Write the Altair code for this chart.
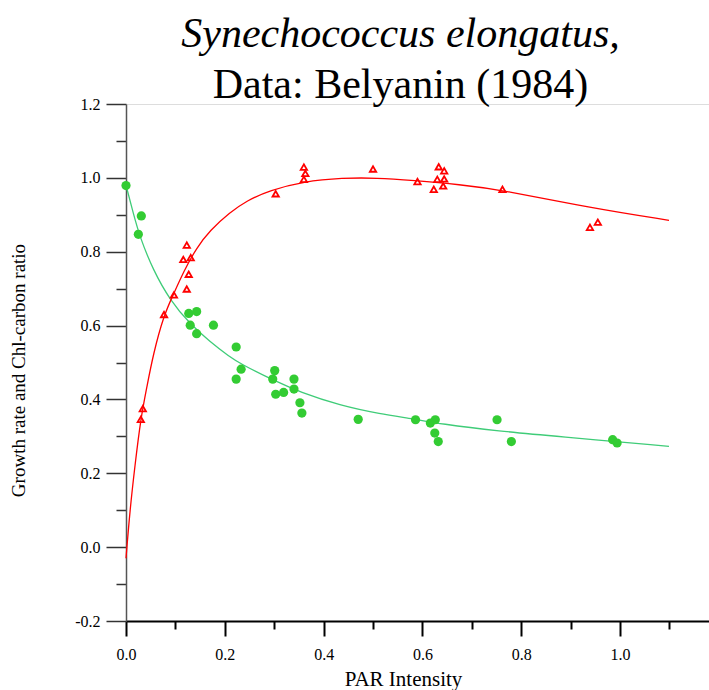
import altair as alt
import pandas as pd

# ---- data ----
green_x = [0.000, 0.025, 0.031, 0.127, 0.130, 0.143, 0.143, 0.177, 0.223, 0.223,
           0.233, 0.297, 0.301, 0.303, 0.319, 0.340, 0.340, 0.352, 0.356, 0.470,
           0.586, 0.616, 0.625, 0.626, 0.632, 0.751, 0.780, 0.985, 0.994]
green_y = [0.979, 0.847, 0.897, 0.633, 0.601, 0.638, 0.578, 0.601, 0.542, 0.455,
           0.482, 0.455, 0.478, 0.414, 0.419, 0.455, 0.428, 0.391, 0.363, 0.346,
           0.345, 0.336, 0.309, 0.345, 0.286, 0.345, 0.286, 0.291, 0.282]

red_x = [0.030, 0.034, 0.077, 0.097, 0.116, 0.123, 0.123, 0.127, 0.131, 0.303,
         0.360, 0.360, 0.363, 0.500, 0.590, 0.623, 0.630, 0.633, 0.642, 0.644,
         0.644, 0.762, 0.939, 0.955]
red_y = [0.346, 0.375, 0.630, 0.683, 0.779, 0.818, 0.699, 0.739, 0.784, 0.957,
         1.029, 0.996, 1.012, 1.024, 0.990, 0.969, 0.996, 1.030, 0.978, 1.019,
         0.997, 0.969, 0.866, 0.880]

# fitted curves
red_curve_x = [0.000, 0.008, 0.018, 0.030, 0.042, 0.055, 0.077, 0.096, 0.116, 0.143,
               0.170, 0.210, 0.244, 0.291, 0.359, 0.439, 0.507, 0.581, 0.675, 0.763,
               0.938, 1.099]
red_curve_y = [-0.030, 0.100, 0.220, 0.350, 0.432, 0.522, 0.630, 0.684, 0.745, 0.811,
               0.858, 0.906, 0.938, 0.966, 0.990, 1.000, 1.000, 0.993, 0.982, 0.967,
               0.919, 0.885]

green_curve_x = [0.000, 0.015, 0.028, 0.055, 0.089, 0.129, 0.170, 0.210, 0.231, 0.298,
                 0.352, 0.433, 0.514, 0.584, 0.635, 0.756, 0.871, 1.099]
green_curve_y = [0.980, 0.903, 0.840, 0.750, 0.669, 0.605, 0.556, 0.515, 0.497, 0.452,
                 0.420, 0.384, 0.361, 0.347, 0.334, 0.314, 0.300, 0.273]

x_ticks = [0.0, 0.1, 0.2, 0.3, 0.4, 0.5, 0.6, 0.7, 0.8, 0.9, 1.0, 1.1]
y_ticks = [-0.2, -0.1, 0.0, 0.1, 0.2, 0.3, 0.4, 0.5, 0.6, 0.7, 0.8, 0.9, 1.0, 1.1, 1.2]

title_line1 = "Synechococcus elongatus,"
title_line2 = "Data: Belyanin (1984)"
x_title = "PAR Intensity"
y_title = "Growth rate and Chl-carbon ratio"

# ---- tables ----
green_df = pd.DataFrame({"x": green_x, "y": green_y})
red_df = pd.DataFrame({"x": red_x, "y": red_y})
red_curve_df = pd.DataFrame({"x": red_curve_x, "y": red_curve_y})
green_curve_df = pd.DataFrame({"x": green_curve_x, "y": green_curve_y})

SERIF = "Liberation Serif"
major_test = "round(datum.value*10) % 2 == 0"
label_expr = "round(datum.value*10) % 2 == 0 ? replace(format(datum.value, '.1f'), '\u2212', '-') : ''"

xscale = alt.Scale(domain=[0, 1.18], nice=False, zero=False)
yscale = alt.Scale(domain=[-0.2, 1.2], nice=False, zero=False)

xaxis = alt.Axis(
    values=x_ticks, labelExpr=label_expr, grid=False,
    tickSize={"condition": {"test": major_test, "value": 15}, "value": 8},
    tickColor="black", tickWidth=2, domainColor="black", domainWidth=2,
    labelFont=SERIF, labelFontSize=16, labelColor="black", labelPadding=10,
    labelOverlap=False, labelFlush=False,
    title=x_title, titleFont=SERIF, titleFontSize=21, titleFontWeight="normal",
    titleColor="black", titleX=277, titleY=64, titleAlign="center", titleBaseline="alphabetic",
)
yaxis = alt.Axis(
    values=y_ticks, labelExpr=label_expr, grid=False,
    tickSize={"condition": {"test": major_test, "value": 20}, "value": 10},
    tickColor="#333333", tickWidth=1.5, domainColor="#555555", domainWidth=1.5,
    labelFont=SERIF, labelFontSize=16, labelColor="black", labelPadding=6,
    labelOverlap=False, labelFlush=False,
    title=y_title, titleFont=SERIF, titleFontSize=19, titleFontWeight="normal",
    titleColor="black", titleAngle=270, titleX=-108, titleY=266,
    titleAlign="center", titleBaseline="middle",
)

X = alt.X("x:Q", scale=xscale, axis=xaxis)
Y = alt.Y("y:Q", scale=yscale, axis=yaxis)

green_line = alt.Chart(green_curve_df).mark_line(
    color="#3fcc78", strokeWidth=1.3, interpolate="basis", clip=False
).encode(x=X, y=Y)

red_line = alt.Chart(red_curve_df).mark_line(
    color="#ff0000", strokeWidth=1.3, interpolate="basis", clip=False
).encode(x=X, y=Y)

green_pts = alt.Chart(green_df).mark_point(
    shape="circle", filled=True, color="#33cc33", size=85, opacity=1
).encode(x=X, y=Y)

red_pts = alt.Chart(red_df).mark_point(
    shape="triangle-up", filled=False, color="#ff0000", size=40, strokeWidth=1.8, opacity=1
).encode(x=X, y=Y)

chart = alt.layer(green_line, red_line, green_pts, red_pts).properties(
    width=583, height=517,
    title=alt.TitleParams(
        text=title_line1, subtitle=title_line2,
        font=SERIF, fontSize=42, fontStyle="italic", fontWeight="normal", color="black",
        subtitleFont=SERIF, subtitleFontSize=42, subtitleFontStyle="normal",
        subtitleFontWeight="normal", subtitleColor="black", subtitlePadding=9,
        anchor="middle", dx=-17, offset=-11,
    ),
    autosize=alt.AutoSizeParams(type="none"),
    padding={"left": 126, "top": 104, "right": 0, "bottom": 69},
).configure_view(stroke=None).configure(background="white")

chart.save("out.html", embed_options={"renderer": "svg", "actions": False})
